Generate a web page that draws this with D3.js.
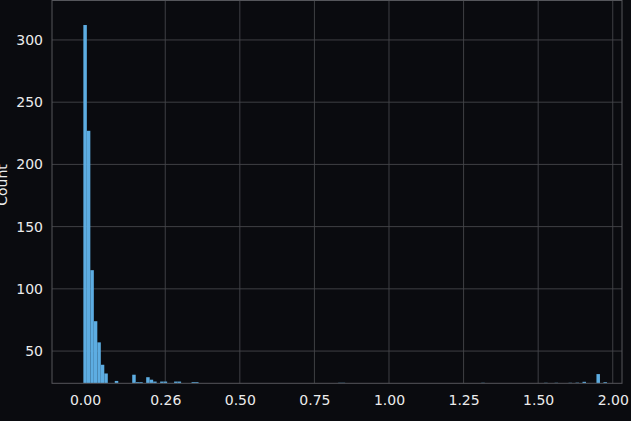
<!DOCTYPE html>
<html>
<head>
<meta charset="utf-8">
<script src="https://cdn.jsdelivr.net/npm/d3@7"></script>
<style>
  html, body { margin: 0; padding: 0; background: #0a0b0f; }
  svg { display: block; }
</style>
</head>
<body>
<svg id="chart" width="631" height="421"></svg>
<script>
// ---- data ----
const binWidth = 0.0117;
const binStart = [-0.0245, -0.0128, -0.0011, 0.0106, 0.0223, 0.0340, 0.0457,
  0.0808, 0.1393, 0.1510, 0.1627, 0.1861, 0.1978, 0.2095, 0.2329, 0.2446,
  0.2797, 0.2914, 0.3382, 0.3499, 0.8296, 0.8413, 1.3093, 1.5199, 1.5550,
  1.6018, 1.6252, 1.6486, 1.6954, 1.7188];
const binCount = [312, 227, 115, 74, 57, 39, 32,
  26, 31, 25, 25, 29, 27, 25.5, 25.5, 25.5,
  25.5, 25.5, 25, 25, 24.5, 24.5, 24.5, 24.5, 24.5,
  24.5, 24.6, 25.3, 31.5, 25];
const xTickValues = [-0.019, 0.25, 0.5, 0.75, 1.0, 1.25, 1.5, 1.75];
const xTickLabels = ["0.00", "0.26", "0.50", "0.75", "1.00", "1.25", "1.50", "2.00"];
const yTickValues = [50, 100, 150, 200, 250, 300];
const yLabel = "Count";

// ---- layout ----
const svg = d3.select("#chart");
const pL = 52, pR = 622, pT = 0.5, pB = 383.3;
const x = d3.scaleLinear().domain([-0.1296, 1.781]).range([pL, pR]);
const y = d3.scaleLinear().domain([24.1, 331.7]).range([pB, pT]);

svg.append("rect").attr("width", 631).attr("height", 421).attr("fill", "#0a0b0f");

svg.append("defs").append("clipPath").attr("id", "clip")
  .append("rect").attr("x", pL).attr("y", pT).attr("width", pR - pL).attr("height", pB - pT);

// grid
const grid = svg.append("g");
grid.selectAll("line.h").data(yTickValues).join("line")
  .attr("x1", pL).attr("x2", pR)
  .attr("y1", d => y(d)).attr("y2", d => y(d))
  .attr("stroke", "#45464b").attr("stroke-width", 0.9);
grid.selectAll("line.v").data(xTickValues.slice(1)).join("line")
  .attr("x1", d => x(d)).attr("x2", d => x(d))
  .attr("y1", pT).attr("y2", pB)
  .attr("stroke", "#45464b").attr("stroke-width", 0.9);

// bars
const data = binStart.map((s, i) => ({ s, c: binCount[i] }));
svg.append("g").attr("clip-path", "url(#clip)")
  .selectAll("rect").data(data).join("rect")
  .attr("x", d => x(d.s))
  .attr("width", d => x(d.s + binWidth) - x(d.s))
  .attr("y", d => y(d.c))
  .attr("height", d => pB - y(d.c))
  .attr("fill", "#5dade2");

// frame
svg.append("rect").attr("x", pL).attr("y", pT)
  .attr("width", pR - pL).attr("height", pB - pT)
  .attr("fill", "none").attr("stroke", "#55565b").attr("stroke-width", 1);

// axes (labels only)
const xAxis = d3.axisBottom(x).tickValues(xTickValues)
  .tickFormat((d, i) => xTickLabels[i]).tickSize(0).tickPadding(12);
const gx = svg.append("g").attr("transform", `translate(0,${pB})`).call(xAxis);
gx.select(".domain").remove();
gx.selectAll("text").attr("fill", "#ececec")
  .style("font-family", "DejaVu Sans").style("font-size", "14px");

const yAxis = d3.axisLeft(y).tickValues(yTickValues).tickSize(0).tickPadding(9);
const gy = svg.append("g").attr("transform", `translate(${pL},0)`).call(yAxis);
gy.select(".domain").remove();
gy.selectAll("text").attr("fill", "#ececec")
  .style("font-family", "DejaVu Sans").style("font-size", "14px");

svg.append("text")
  .attr("transform", "translate(7,185) rotate(-90)")
  .attr("text-anchor", "middle")
  .attr("fill", "#ececec")
  .style("font-family", "DejaVu Sans").style("font-size", "14px")
  .text(yLabel);
</script>
</body>
</html>
